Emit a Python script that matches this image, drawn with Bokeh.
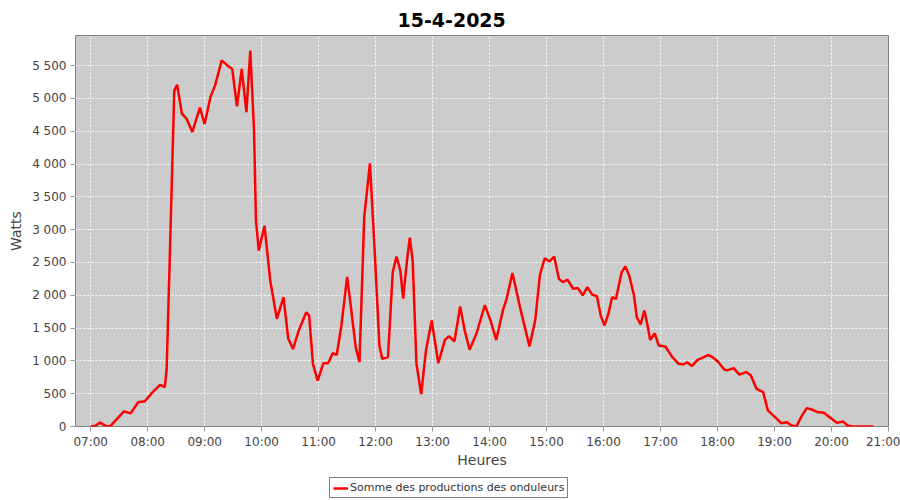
import pandas as pd
from bokeh.plotting import figure
from bokeh.layouts import column
from bokeh.models import (Range1d, FixedTicker, DatetimeTickFormatter, Legend, LegendItem,
                          Title, ColumnDataSource)
from bokeh.embed import file_html
from bokeh.resources import INLINE

title_text = "15-4-2025"
x_title = "Heures"
y_title = "Watts"
series_name = "Somme des productions des onduleurs"
day = "2025-04-15"

times = ["07:00", "07:05", "07:10", "07:17", "07:21", "07:26", "07:35", "07:42", "07:50", "07:57",
         "08:05", "08:13", "08:18", "08:20", "08:24", "08:28", "08:31", "08:36", "08:41", "08:47",
         "08:55", "09:00", "09:06", "09:11", "09:18", "09:25", "09:29", "09:34", "09:39", "09:44",
         "09:48", "09:52", "09:54", "09:57", "10:03", "10:09", "10:16", "10:23", "10:28", "10:33",
         "10:39", "10:47", "10:50", "10:54", "10:59", "11:05", "11:10", "11:15", "11:19", "11:24",
         "11:30", "11:34", "11:39", "11:43", "11:48", "11:54", "11:59", "12:04", "12:07", "12:13",
         "12:18", "12:22", "12:26", "12:29", "12:33", "12:36", "12:39", "12:43", "12:48", "12:53",
         "12:59", "13:06", "13:13", "13:17", "13:23", "13:29", "13:34", "13:39", "13:46", "13:55",
         "14:01", "14:07", "14:14", "14:18", "14:24", "14:32", "14:42", "14:48", "14:53", "14:58",
         "15:03", "15:08", "15:13", "15:17", "15:22", "15:28", "15:33", "15:38", "15:43", "15:48",
         "15:53", "15:57", "16:01", "16:05", "16:09", "16:13", "16:19", "16:23", "16:27", "16:32",
         "16:35", "16:39", "16:43", "16:47", "16:49", "16:54", "16:58", "17:05", "17:12", "17:19",
         "17:24", "17:28", "17:33", "17:39", "17:44", "17:50", "17:55", "18:01", "18:07", "18:10",
         "18:17", "18:23", "18:30", "18:35", "18:41", "18:48", "18:53", "19:00", "19:07", "19:13",
         "19:18", "19:23", "19:29", "19:34", "19:39", "19:45", "19:52", "19:58", "20:06", "20:12",
         "20:17", "20:22", "20:27", "20:32", "20:37", "20:44"]
watts = [0, 10, 60, 0, 10, 90, 230, 200, 370, 385,
         520, 635, 600, 880, 2960, 5120, 5210, 4770, 4690, 4490,
         4860, 4610, 5020, 5200, 5580, 5490, 5450, 4880, 5450, 4790,
         5730, 4510, 3140, 2680, 3060, 2230, 1640, 1970, 1340, 1180,
         1460, 1740, 1690, 955, 700, 965, 965, 1120, 1090, 1540,
         2280, 1820, 1210, 980, 3190, 4010, 2680, 1230, 1030, 1060,
         2350, 2590, 2380, 1950, 2530, 2880, 2530, 955, 495, 1160,
         1615, 965, 1320, 1375, 1300, 1830, 1450, 1170, 1410, 1850,
         1615, 1320, 1770, 1950, 2340, 1820, 1220, 1615, 2310, 2565,
         2515, 2590, 2250, 2200, 2240, 2100, 2110, 2000, 2125, 2010,
         1985, 1690, 1540, 1715, 1970, 1945, 2350, 2440, 2300, 2000,
         1665, 1555, 1770, 1490, 1320, 1420, 1235, 1220, 1065, 955,
         945, 980, 920, 1015, 1045, 1090, 1055, 980, 870, 855,
         890, 790, 830, 780, 575, 525, 245, 150, 50, 65,
         15, 0, 170, 280, 260, 220, 210, 140, 55, 75,
         15, 0, 0, 0, 0, 0]

x_ticks = ["07:00", "08:00", "09:00", "10:00", "11:00", "12:00", "13:00", "14:00",
           "15:00", "16:00", "17:00", "18:00", "19:00", "20:00", "21:00"]
y_ticks = [0, 500, 1000, 1500, 2000, 2500, 3000, 3500, 4000, 4500, 5000, 5500]
y_tick_labels = ["0", "500", "1 000", "1 500", "2 000", "2 500", "3 000", "3 500",
                 "4 000", "4 500", "5 000", "5 500"]
x_start, x_end = "06:44", "21:00"
y_start, y_end = 0, 5960

def ts(t):
    return pd.Timestamp(f"{day} {t}")

src = ColumnDataSource(dict(t=[ts(t) for t in times], w=watts))

FONT = "DejaVu Sans"
p = figure(width=900, height=475, x_axis_type="datetime", output_backend="svg",
           toolbar_location=None, title=None,
           x_range=Range1d(ts(x_start), ts(x_end)), y_range=Range1d(y_start, y_end),
           min_border_left=75, min_border_right=12, min_border_top=35, min_border_bottom=49)
p.background_fill_color = "#cccccc"
p.border_fill_color = "white"
p.outline_line_color = "#808080"
p.outline_line_width = 1

r = p.line("t", "w", source=src, line_color="#ff0000", line_width=2.5)

xt = [ts(t).value // 10**6 for t in x_ticks]
p.xaxis.ticker = FixedTicker(ticks=xt)
fmt = "%H:%M"
p.xaxis.formatter = DatetimeTickFormatter(milliseconds=fmt, seconds=fmt, minsec=fmt, minutes=fmt,
                                          hourmin=fmt, hours=fmt, days=fmt, months=fmt, years=fmt)
p.yaxis.ticker = FixedTicker(ticks=y_ticks)
p.yaxis.major_label_overrides = {v: l for v, l in zip(y_ticks, y_tick_labels)}

for ax in (p.xaxis, p.yaxis):
    ax.axis_line_color = None
    ax.major_tick_line_color = "#999999"
    ax.minor_tick_line_color = None
    ax.major_tick_in = 0
    ax.major_label_text_font = FONT
    ax.major_label_text_font_size = "12px"
    ax.major_label_text_color = "#444444"
    ax.axis_label_text_font = FONT
    ax.axis_label_text_font_size = "14px"
    ax.axis_label_text_font_style = "normal"
    ax.axis_label_text_color = "#444444"

p.xaxis.axis_label = x_title
p.yaxis.axis_label = y_title
p.xaxis.major_tick_out = 5
p.xaxis.major_label_standoff = 3
p.xaxis.axis_label_standoff = 0
p.yaxis.major_tick_out = 5
p.yaxis.major_label_standoff = 4
p.yaxis.axis_label_standoff = 5

for g in (p.xgrid, p.ygrid):
    g.grid_line_color = "white"
    g.grid_line_dash = "2 2"
    g.grid_line_width = 1
    g.grid_line_alpha = 0.9

title = Title(text=title_text, align="left", offset=322, text_font=FONT,
              text_font_style="bold", text_font_size="19px", text_color="black",
              standoff=18)
p.add_layout(title, "above")

# legend strip: same data, drawn outside its own visible range so only the legend shows
leg = figure(width=900, height=25, x_axis_type="datetime", output_backend="svg",
             toolbar_location=None, x_axis_location=None, y_axis_location=None,
             x_range=Range1d(ts(x_start), ts(x_end)), y_range=Range1d(-2, -1),
             min_border=0)
leg.outline_line_color = None
leg.grid.visible = False
leg.background_fill_color = "white"
r2 = leg.line("t", "w", source=src, line_color="#ff0000", line_width=2.5)
legend = Legend(items=[LegendItem(label=series_name, renderers=[r2])], location=(254, 2),
                orientation="horizontal", border_line_color="black", border_line_width=1,
                background_fill_color="white", background_fill_alpha=1,
                label_text_font=FONT, label_text_font_size="11px", label_text_color="#333333",
                glyph_width=15, glyph_height=12, label_standoff=2, padding=3, margin=0,
                spacing=0, label_height=12)
leg.add_layout(legend)

open("out.html", "w").write(file_html(column(p, leg, spacing=0), INLINE))
